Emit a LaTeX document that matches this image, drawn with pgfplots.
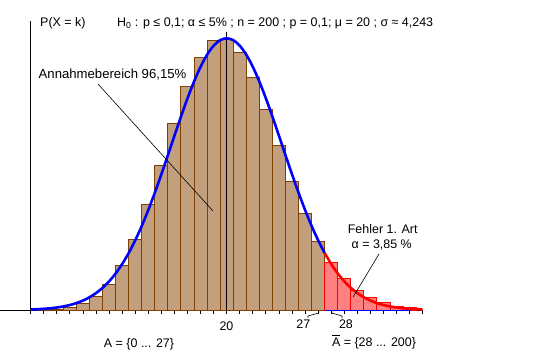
\documentclass[border=0pt]{standalone}
\usepackage{fontspec}
\setmainfont{Liberation Sans}
\usepackage{pgfplots}
\pgfplotsset{compat=1.18}
\definecolor{tanb}{RGB}{194,160,126}
\definecolor{brn}{RGB}{128,64,0}
\definecolor{lred}{RGB}{255,128,128}
\newcommand\px[2]{({(#1-30.7)*1bp},{(310-#2)*1bp})}
\begin{document}
\begin{tikzpicture}[font=\fontsize{12.5}{14}\selectfont]
\path[use as bounding box] (-30.7bp,-47bp) rectangle (519.3bp,310bp);
\begin{axis}[
  scale only axis, width=392bp, height=289bp,
  xmin=5, xmax=35, ymin=0, ymax=0.1,
  axis x line*=bottom, axis y line*=left,
  xtick={5,...,35}, xticklabels={}, ytick=\empty,
  tick align=outside, major tick length=3.5bp,
  tick style={black, line width=0.8bp},
  axis line style={black, line width=0.8bp},
  clip=false,
]
\addplot[ybar, bar width=1, bar shift=0pt, fill=tanb, draw=brn, line width=1bp]
 coordinates {(6,0.000109) (7,0.000337) (8,0.000903) (9,0.002141) (10,0.00454) (11,0.00872) (12,0.01526) (13,0.02451) (14,0.03638) (15,0.05013) (16,0.06440) (17,0.07745) (18,0.08749) (19,0.09312) (20,0.09364) (21,0.08918) (22,0.08062) (23,0.06933) (24,0.05681) (25,0.04444) (26,0.03323) (27,0.02380)};
\addplot[ybar, bar width=1, bar shift=0pt, fill=lred, draw=red, line width=1bp]
 coordinates {(28,0.01634) (29,0.01077) (30,0.006819) (31,0.004155) (32,0.002438) (33,0.001379) (34,0.000753)};
\addplot[blue, line width=1bp] coordinates {(27.5,0) (34.1,0)};
\draw[black, line width=1.5bp] (axis cs:20,0) -- (axis cs:20,0.0963);
\addplot[blue, line width=2.6bp, smooth] coordinates {(5,0.000181) (5.5,0.000273) (6,0.000406) (6.5,0.000595) (7,0.000860) (7.5,0.001225) (8,0.001722) (8.5,0.002387) (9,0.003262) (9.5,0.004398) (10,0.005846) (10.5,0.007665) (11,0.009910) (11.5,0.012637) (12,0.015891) (12.5,0.019709) (13,0.024106) (13.5,0.029077) (14,0.034590) (14.5,0.040580) (15,0.046951) (15.5,0.053573) (16,0.060286) (16.5,0.066905) (17,0.073226) (17.5,0.079039) (18,0.084136) (18.5,0.088327) (19,0.091448) (19.5,0.093373) (20,0.094024) (20.5,0.093373) (21,0.091448) (21.5,0.088327) (22,0.084136) (22.5,0.079039) (23,0.073226) (23.5,0.066905) (24,0.060286) (24.5,0.053573) (25,0.046951) (25.5,0.040580) (26,0.034590) (26.5,0.029077) (27,0.024106) (27.5,0.019709)};
\addplot[red, line width=2.6bp, smooth] coordinates {(27.5,0.019709) (28,0.015891) (28.5,0.012637) (29,0.009910) (29.5,0.007665) (30,0.005846) (30.5,0.004398) (31,0.003262) (31.5,0.002387) (32,0.001722) (32.5,0.001225) (33,0.000860) (33.5,0.000595) (34,0.000406) (34.5,0.000273) (35,0.000181)};
\draw[black, line width=0.8bp] (axis cs:5,0) -- ++(-4.7bp,0);
\draw[black, line width=0.8bp] (axis cs:5,0.1) ++(-3.5bp,0) -- ++(7bp,0);
\draw[black, line width=0.8bp] (axis cs:5,0.05) ++(-3.5bp,0) -- ++(7bp,0);
\end{axis}
% annotations
\node[anchor=west, inner sep=0] at \px{40}{23} {P(X = k)};
\node[anchor=west, inner sep=0] at \px{117}{23} {H\textsubscript{0} : p ≤ 0,1; α ≤ 5\% ; n = 200 ; p = 0,1; μ = 20 ; σ ≈ 4,243};
\node[anchor=west, inner sep=0, font=\fontsize{13.2}{15}\selectfont] at \px{38.5}{74.5} {Annahmebereich 96,15\%};
\draw[black, line width=0.6bp] \px{98}{84} -- \px{213}{211};
\node[inner sep=0] at \px{382.7}{229} {Fehler 1. Art};
\node[inner sep=0] at \px{381.7}{245} {α = 3,85 \%};
\draw[black, line width=0.6bp] \px{379}{254} -- \px{353.3}{296.7};
\node[inner sep=0] at \px{226.5}{326.5} {20};
\node[inner sep=0] at \px{303.3}{324.5} {27};
\draw[black, line width=0.6bp] \px{318.7}{311} -- \px{318.7}{313} -- \px{308}{316} -- \px{308}{318};
\node[inner sep=0] at \px{346}{324.5} {28};
\draw[black, line width=0.6bp] \px{331.7}{311} -- \px{331.7}{313} -- \px{342}{316} -- \px{342}{318};
\node[inner sep=0] at \px{139}{344} {A = \{0 ... 27\}};
\node[inner sep=0] at \px{374}{343.5} {\ooalign{A\cr\hidewidth\rule[0.9em]{0.62em}{0.6pt}\hidewidth} = \{28 ... 200\}};
\end{tikzpicture}
\end{document}
